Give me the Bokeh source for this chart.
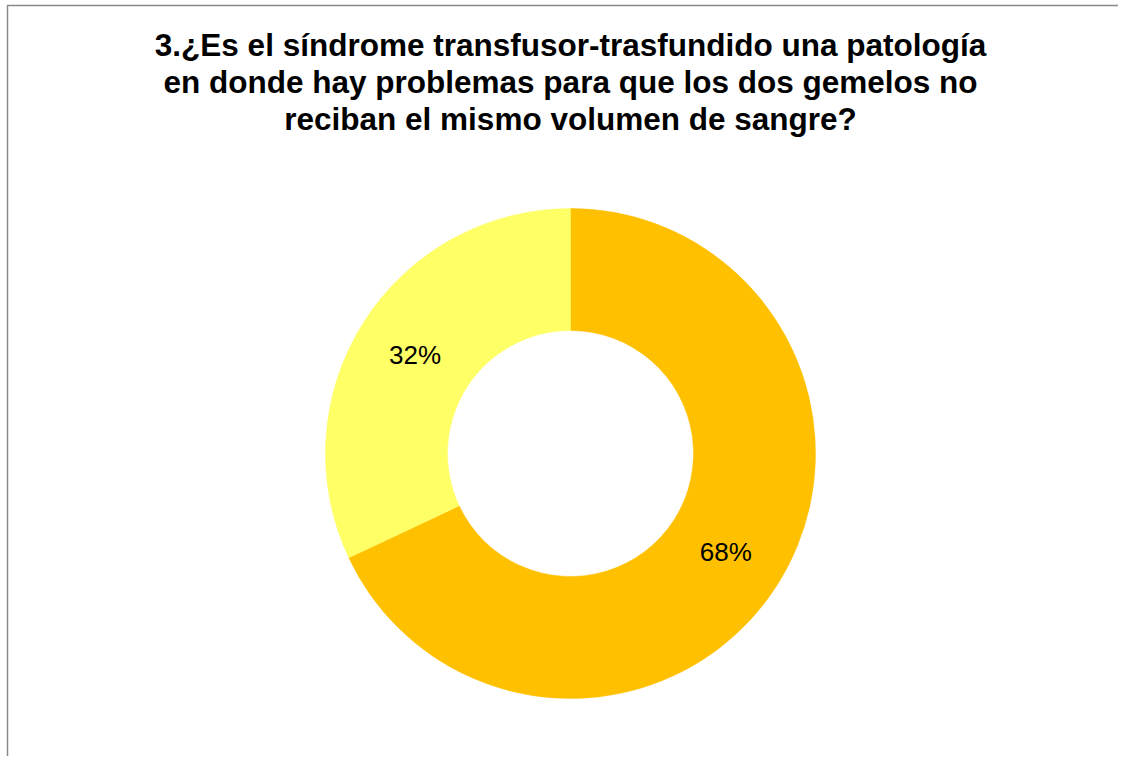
import math
from bokeh.plotting import figure
from bokeh.models import Range1d, Label
from bokeh.embed import file_html
from bokeh.resources import INLINE

# ---- data ----
categories = ["Sí", "No"]
percent_values = [68, 32]
slice_colors = ["#FFC000", "#FFFF66"]
title_lines = [
    "3.¿Es el síndrome transfusor-trasfundido una patología",
    "en donde hay problemas para que los dos gemelos no",
    "reciban el mismo volumen de sangre?",
]

W, H = 1118, 756
p = figure(width=W, height=H, output_backend="svg", toolbar_location=None,
           x_range=Range1d(0, W), y_range=Range1d(0, H),
           min_border=0, min_border_left=0, min_border_right=0,
           min_border_top=0, min_border_bottom=0)
p.axis.visible = False
p.grid.visible = False
p.outline_line_color = None
p.background_fill_color = "white"
p.border_fill_color = "white"

# chart-area border (right / bottom edges fall outside the picture)
p.quad(left=7, right=W + 20, top=H - 5, bottom=-20,
       fill_color=None, line_color="#898989", line_width=1.5)

cx, cy = 570, H - 453
r_out, r_in = 245, 123

total = sum(percent_values)
start = math.pi / 2
for val, col in zip(percent_values, slice_colors):
    ang = 2 * math.pi * val / total
    end = start - ang
    p.annular_wedge(x=cx, y=cy, inner_radius=r_in, outer_radius=r_out,
                    start_angle=end, end_angle=start, color=col,
                    line_color=col, line_width=0.5)
    mid = (start + end) / 2
    rm = (r_in + r_out) / 2
    p.add_layout(Label(x=cx + rm * math.cos(mid), y=cy + rm * math.sin(mid),
                       text=f"{val}%", text_align="center", text_baseline="middle",
                       text_font="Liberation Sans", text_font_size="26px",
                       text_color="black"))
    start = end

for i, line in enumerate(title_lines):
    p.add_layout(Label(x=570, y=H - 44 - 37 * i, text=line,
                       text_align="center", text_baseline="middle",
                       text_font="Liberation Sans", text_font_size="31.5px",
                       text_font_style="bold", text_color="black"))

open("out.html", "w").write(file_html(p, INLINE))
